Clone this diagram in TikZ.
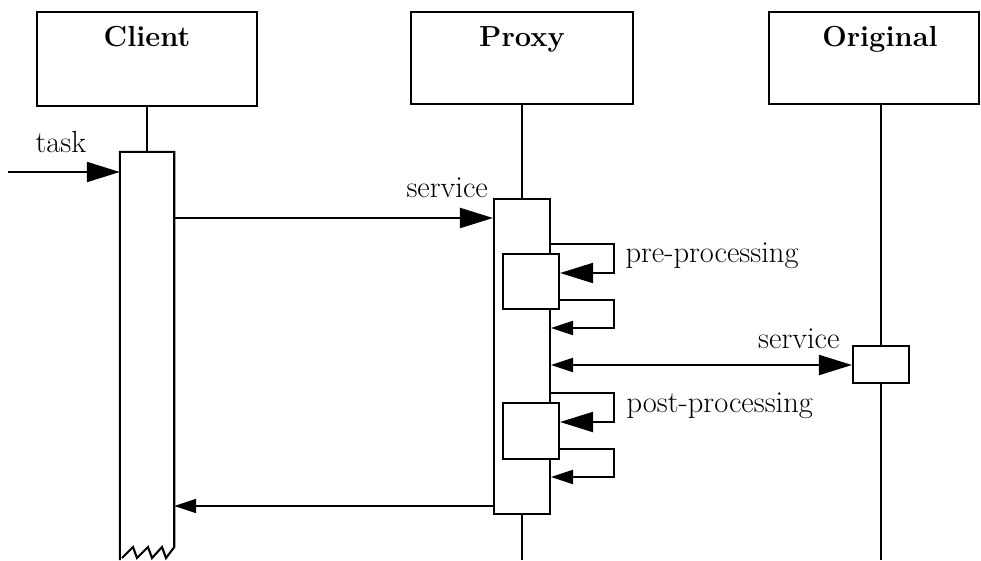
\documentclass[tikz,border=0pt]{standalone}
\usetikzlibrary{arrows.meta}
\begin{document}
\begin{tikzpicture}[x=1pt,y=-1pt,
  every node/.style={font=\fontsize{30.5}{36}\selectfont},
  ln/.style={line width=2.1pt, line join=miter},
  box/.style={draw, line width=2.1pt, fill=white, inner sep=0pt},
  ghost/.style={draw=none, inner sep=0pt},
  title/.style={anchor=base, font=\fontsize{29}{34}\selectfont\bfseries},
  lbl/.style={anchor=base west},
  big/.style={-{Triangle[length=33pt,width=20pt]}},
  small/.style={-{Triangle[length=22pt,width=14pt]}}
]
\useasboundingbox (0,0) rectangle (981,560);
% header boxes
\node[box, minimum width=220pt, minimum height=94pt] (client) at (147,59) {};
\node[box, minimum width=222pt, minimum height=92pt] (proxy) at (522,58) {};
\node[box, minimum width=210pt, minimum height=92pt] (original) at (874,58) {};
\node[title] (clientt) at (147,46) {Client};
\node[title] (proxyt) at (522,46) {Proxy};
\node[title] (originalt) at (880,46) {Original};
% activation bars
\node[ghost, minimum width=54pt, minimum height=408pt] (cbar) at (147,356) {};
\draw[ln] (cbar.south west) -- (cbar.north west) -- (cbar.north east) -- ([yshift=13pt]cbar.south east)
  -- (166,558) -- (162,547) -- (152,558) -- (148,547) -- (137,558) -- (133,547) -- (122,558);
\node[box, minimum width=56pt, minimum height=315pt] (pbar) at (522,356.5) {};
\node[box, minimum width=56pt, minimum height=55pt] (prebox) at (531,281.5) {};
\node[box, minimum width=56pt, minimum height=56pt] (postbox) at (531,431) {};
\node[box, minimum width=56pt, minimum height=37pt] (obox) at (881,364.5) {};
% lifelines
\coordinate (pend) at (522,560);
\coordinate (oend) at (881,560);
\draw[ln] (client.south) -- (cbar.north);
\draw[ln] (proxy.south) -- (pbar.north);
\draw[ln] (pbar.south) -- (pend);
\draw[ln] (original.south -| obox.north) -- (obox.north);
\draw[ln] (obox.south) -- (oend);
% messages
\coordinate (taskstart) at (8,172);
\draw[ln, big] (taskstart) -- (taskstart -| cbar.west);
\node[lbl] (tasklbl) at (32,152) {task};
\coordinate (m1) at (0,218);
\draw[ln, big] (cbar.east |- m1) -- (pbar.west |- m1);
\node[lbl] (svc1) at (403,197) {service};
% pre-processing
\coordinate (l1) at (614,244);
\coordinate (l1b) at (0,273);
\draw[ln, big] (pbar.east |- l1) -- (l1) |- (prebox.east |- l1b);
\node[lbl] (prelbl) at (622,262) {pre-processing};
\coordinate (l2) at (614,300);
\coordinate (l2b) at (0,328);
\draw[ln, small] (prebox.east |- l2) -- (l2) |- (pbar.east |- l2b);
% service to original
\coordinate (m2) at (0,365);
\draw[ln, {Triangle[length=22pt,width=14pt]}-{Triangle[length=33pt,width=20pt]}] (pbar.east |- m2) -- (obox.west |- m2);
\node[anchor=base east] (svc2) at (843,348) {service};
% post-processing
\coordinate (l3) at (614,393);
\coordinate (l3b) at (0,422);
\draw[ln, big] (pbar.east |- l3) -- (l3) |- (postbox.east |- l3b);
\node[lbl] (postlbl) at (623,412) {post-processing};
\coordinate (l4) at (614,449);
\coordinate (l4b) at (0,477);
\draw[ln, small] (postbox.east |- l4) -- (l4) |- (pbar.east |- l4b);
% return
\coordinate (m3) at (0,506);
\draw[ln, small] (pbar.west |- m3) -- (cbar.east |- m3);
\end{tikzpicture}
\end{document}
